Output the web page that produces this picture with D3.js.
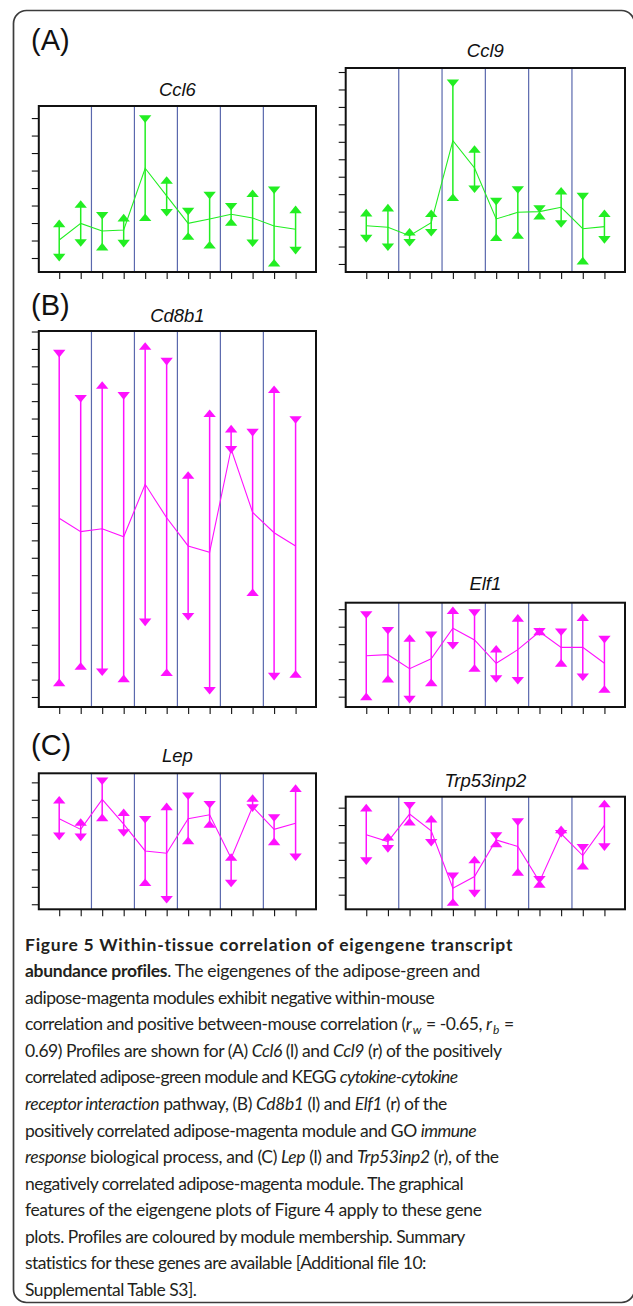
<!DOCTYPE html>
<html>
<head>
<meta charset="utf-8">
<script src="https://cdn.jsdelivr.net/npm/d3@7"></script>
<style>
  html, body { margin: 0; padding: 0; background: #fff; }
  svg { display: block; }
</style>
</head>
<body>
<svg id="figure" width="633" height="1306"></svg>
<script>
// ----------
// 12 mice along x, in 6 groups of 2 (blue separators between groups)
var samples = [1, 2, 3, 4, 5, 6, 7, 8, 9, 10, 11, 12];
var groupBreaks = [2.5, 4.5, 6.5, 8.5, 10.5];

// values are in y-tick units (tick 0 = lowest tick)
// mean = profile line, up = ▲ marker, down = ▼ marker
var ccl6Mean = [1.03, 1.98, 1.54, 1.60, 5.13, 3.55, 1.98, 2.23, 2.50, 2.29, 1.83, 1.64];
var ccl6Up   = [1.98, 3.09, 0.65, 2.31, 2.33, 4.46, 1.26, 0.76, 2.06, 3.70, -0.27, 2.78];
var ccl6Down = [0.02, 0.86, 2.42, 0.82, 7.94, 2.59, 2.65, 3.57, 2.93, 0.84, 3.87, 0.42];

var ccl9Mean = [2.19, 2.10, 1.62, 2.37, 7.07, 5.50, 2.58, 2.96, 3.00, 3.25, 2.02, 2.14];
var ccl9Up   = [2.94, 3.23, 1.85, 2.91, 3.82, 6.59, 1.53, 1.66, 2.77, 4.20, 0.19, 2.91];
var ccl9Down = [1.45, 0.96, 1.22, 1.79, 10.36, 4.28, 3.57, 4.24, 3.15, 2.29, 3.86, 1.38];

var cd8b1Mean = [10.27, 9.50, 9.67, 9.21, 12.22, 10.30, 8.68, 8.32, 14.25, 10.61, 9.44, 8.68];
var cd8b1Up   = [0.84, 1.78, 17.93, 1.07, 20.17, 1.42, 12.76, 16.30, 15.42, 6.02, 17.68, 1.32];
var cd8b1Down = [19.73, 17.14, 1.42, 17.30, 4.29, 19.27, 4.61, 0.36, 14.20, 15.19, 1.17, 15.92];

var elf1Mean = [2.34, 2.40, 1.60, 2.17, 3.91, 3.24, 1.91, 2.69, 3.71, 2.82, 2.82, 1.91];
var elf1Up   = [0.02, 1.03, 3.35, 0.82, 4.94, 1.64, 2.74, 4.50, 3.73, 1.93, 4.54, 0.44];
var elf1Down = [4.67, 3.77, -0.17, 3.51, 2.91, 4.78, 1.01, 0.91, 3.70, 3.68, 1.11, 3.26];

var lepMean = [4.91, 4.30, 6.02, 4.60, 3.06, 2.93, 4.91, 5.14, 2.64, 5.60, 4.30, 4.65];
var lepUp   = [6.00, 4.72, 4.99, 5.28, 1.26, 5.62, 3.67, 4.61, 2.71, 6.10, 3.61, 6.67];
var lepDown = [3.90, 3.84, 7.06, 4.09, 4.85, 0.26, 6.20, 5.71, 1.19, 5.52, 4.95, 2.70];

var trpMean = [3.44, 3.05, 4.63, 3.67, 0.37, 1.04, 3.15, 2.77, 0.75, 3.50, 2.25, 3.98];
var trpUp   = [5.00, 3.33, 4.19, 4.36, -0.42, 2.02, 2.94, 1.31, 0.62, 3.75, 1.67, 5.24];
var trpDown = [1.93, 2.63, 5.10, 2.98, 1.06, 0.06, 3.37, 4.17, 0.86, 3.50, 2.69, 2.73];

var GREEN = '#22ee22';
var MAGENTA = '#ff11ff';

// ----------
var panels = [
  { title: 'Ccl6', mean: ccl6Mean, up: ccl6Up, down: ccl6Down, color: GREEN,
    x0: 38.8, x1: 316, y0: 106, y1: 272, lo: -0.8, hi: 8.69, titleY: 95.5 },
  { title: 'Ccl9', mean: ccl9Mean, up: ccl9Up, down: ccl9Down, color: GREEN,
    x0: 345.7, x1: 625, y0: 68, y1: 272, lo: -0.46, hi: 11.23, titleY: 57.3 },
  { title: 'Cd8b1', mean: cd8b1Mean, up: cd8b1Up, down: cd8b1Down, color: MAGENTA,
    x0: 38.8, x1: 316, y0: 331, y1: 707, lo: -0.575, hi: 21.03, titleY: 321.7 },
  { title: 'Elf1', mean: elf1Mean, up: elf1Up, down: elf1Down, color: MAGENTA,
    x0: 345.7, x1: 625, y0: 602.7, y1: 707, lo: -0.59, hi: 5.37, titleY: 590 },
  { title: 'Lep', mean: lepMean, up: lepUp, down: lepDown, color: MAGENTA,
    x0: 38.8, x1: 316, y0: 773.3, y1: 909.3, lo: -0.29, hi: 7.52, titleY: 761.7 },
  { title: 'Trp53inp2', mean: trpMean, up: trpUp, down: trpDown, color: MAGENTA,
    x0: 345.7, x1: 625, y0: 796.7, y1: 909.3, lo: -0.84, hi: 5.63, titleY: 786.7 }
];

var sectionLabels = [
  { text: '(A)', y: 50 },
  { text: '(B)', y: 315 },
  { text: '(C)', y: 755 }
];

// caption: each line is a list of [text, style]; right = where the line ends
var captionLines = [
  { right: 513, parts: [['Figure 5 Within-tissue correlation of eigengene transcript', 'b']] },
  { right: 480, parts: [['abundance profiles', 'b'], ['. The eigengenes of the adipose-green and', '']] },
  { right: 435, parts: [['adipose-magenta modules exhibit negative within-mouse', '']] },
  { right: 510, parts: [['correlation and positive between-mouse correlation (', ''], ['r', 'i'], ['w', 'sub'],
    [' = -0.65, ', ''], ['r', 'i'], ['b', 'sub'], [' =', '']] },
  { right: 502, parts: [['0.69) Profiles are shown for (A) ', ''], ['Ccl6', 'i'], [' (l) and ', ''], ['Ccl9', 'i'],
    [' (r) of the positively', '']] },
  { right: 458, parts: [['correlated adipose-green module and KEGG ', ''], ['cytokine-cytokine', 'i']] },
  { right: 447, parts: [['receptor interaction', 'i'], [' pathway, (B) ', ''], ['Cd8b1', 'i'], [' (l) and ', ''],
    ['Elf1', 'i'], [' (r) of the', '']] },
  { right: 477, parts: [['positively correlated adipose-magenta module and GO ', ''], ['immune', 'i']] },
  { right: 499, parts: [['response', 'i'], [' biological process, and (C) ', ''], ['Lep', 'i'], [' (l) and ', ''],
    ['Trp53inp2', 'i'], [' (r), of the', '']] },
  { right: 464, parts: [['negatively correlated adipose-magenta module. The graphical', '']] },
  { right: 482, parts: [['features of the eigengene plots of Figure 4 apply to these gene', '']] },
  { right: 465, parts: [['plots. Profiles are coloured by module membership. Summary', '']] },
  { right: 427, parts: [['statistics for these genes are available [Additional file 10:', '']] },
  { right: 197, parts: [['Supplemental Table S3].', '']] }
];

(function() {

  var svg = d3.select('#figure');

  // ----------
  // flattened triangle marker (wider than tall), pointing up
  var flatTriangle = {
    draw: function(context) {
      var w = 6.2, h = 3.8;
      context.moveTo(0, -h);
      context.lineTo(w, h);
      context.lineTo(-w, h);
      context.closePath();
    }
  };
  var marker = d3.symbol().type(flatTriangle);

  // ----------
  // outer rounded frame
  svg.append('rect')
    .attr('x', 13.5)
    .attr('y', 10.5)
    .attr('width', 621)
    .attr('height', 1292)
    .attr('rx', 13)
    .attr('fill', 'none')
    .attr('stroke', '#3c3c3c')
    .attr('stroke-width', 1.7);

  svg.selectAll('text.section')
    .data(sectionLabels)
    .enter().append('text')
    .attr('class', 'section')
    .attr('x', 31)
    .attr('y', function(d) { return d.y; })
    .attr('font-family', 'Liberation Sans, Arial, sans-serif')
    .attr('font-size', 29)
    .attr('fill', '#111')
    .text(function(d) { return d.text; });

  // ----------
  var drawPanel = function(p) {
    var g = svg.append('g');
    var x = d3.scaleLinear().domain([0.05, 12.95]).range([p.x0, p.x1]);
    var y = d3.scaleLinear().domain([p.lo, p.hi]).range([p.y1, p.y0]);

    g.append('text')
      .attr('x', (p.x0 + p.x1) / 2)
      .attr('y', p.titleY)
      .attr('text-anchor', 'middle')
      .attr('font-family', 'Liberation Sans, Arial, sans-serif')
      .attr('font-style', 'italic')
      .attr('font-size', 18.5)
      .attr('fill', '#111')
      .text(p.title);

    g.selectAll('line.sep')
      .data(groupBreaks)
      .enter().append('line')
      .attr('class', 'sep')
      .attr('x1', function(d) { return x(d); })
      .attr('x2', function(d) { return x(d); })
      .attr('y1', p.y0)
      .attr('y2', p.y1)
      .attr('stroke', '#5a68ad')
      .attr('stroke-width', 1.2);

    // error bars between the two markers
    g.selectAll('line.bar')
      .data(samples)
      .enter().append('line')
      .attr('class', 'bar')
      .attr('x1', function(d) { return x(d); })
      .attr('x2', function(d) { return x(d); })
      .attr('y1', function(d, i) { return y(p.up[i]); })
      .attr('y2', function(d, i) { return y(p.down[i]); })
      .attr('stroke', p.color)
      .attr('stroke-width', 1.5);

    var line = d3.line()
      .x(function(d, i) { return x(samples[i]); })
      .y(function(d) { return y(d); });

    g.append('path')
      .datum(p.mean)
      .attr('d', line)
      .attr('fill', 'none')
      .attr('stroke', p.color)
      .attr('stroke-width', 1.1);

    g.selectAll('path.up')
      .data(samples)
      .enter().append('path')
      .attr('class', 'up')
      .attr('d', marker)
      .attr('transform', function(d, i) { return 'translate(' + x(d) + ',' + y(p.up[i]) + ')'; })
      .attr('fill', p.color);

    g.selectAll('path.down')
      .data(samples)
      .enter().append('path')
      .attr('class', 'down')
      .attr('d', marker)
      .attr('transform', function(d, i) { return 'translate(' + x(d) + ',' + y(p.down[i]) + ') rotate(180)'; })
      .attr('fill', p.color);

    // unlabelled tick marks
    var yTicks = d3.range(Math.ceil(p.lo), Math.floor(p.hi) + 1);
    var yAxis = g.append('g')
      .attr('transform', 'translate(' + p.x0 + ',0)')
      .call(d3.axisLeft(y).tickValues(yTicks).tickSize(7).tickFormat(''));
    var xAxis = g.append('g')
      .attr('transform', 'translate(0,' + p.y1 + ')')
      .call(d3.axisBottom(x).tickValues(samples).tickSize(7).tickFormat(''));
    [yAxis, xAxis].forEach(function(a) {
      a.select('.domain').remove();
      a.selectAll('line').attr('stroke', '#111').attr('stroke-width', 1.1);
    });

    g.append('rect')
      .attr('x', p.x0)
      .attr('y', p.y0)
      .attr('width', p.x1 - p.x0)
      .attr('height', p.y1 - p.y0)
      .attr('fill', 'none')
      .attr('stroke', '#111')
      .attr('stroke-width', 2);
  };

  panels.forEach(drawPanel);

  // ----------
  // caption; each line gets a little letter-spacing so it ends where it does in the figure
  var left = 25;
  var fontSize = 17.5;
  var texts = captionLines.map(function(ln, i) {
    var t = svg.append('text')
      .attr('x', left)
      .attr('y', 950.7 + i * 26.55)
      .attr('font-family', 'Lato, Open Sans, sans-serif')
      .attr('font-size', fontSize)
      .attr('fill', '#231f20');

    var prev = '';
    ln.parts.forEach(function(part) {
      var s = t.append('tspan').text(part[0]);
      if (part[1] === 'b') s.attr('font-weight', 'bold');
      if (part[1] === 'i') s.attr('font-style', 'italic');
      if (part[1] === 'sub') {
        s.attr('font-style', 'italic').attr('font-size', 12).attr('dy', 4).attr('dx', 1.5);
      } else if (prev === 'sub') {
        s.attr('dy', -4).attr('dx', 1);
      }
      prev = part[1];
    });
    return t;
  });

  texts.forEach(function(t, i) {
    var ln = captionLines[i];
    var chars = ln.parts.map(function(p) { return p[0]; }).join('').length;
    var w = t.node().getComputedTextLength();
    var spacing = (ln.right - left - w) / Math.max(1, chars - 1);
    t.attr('letter-spacing', spacing.toFixed(3));
  });

})();
</script>
</body>
</html>
